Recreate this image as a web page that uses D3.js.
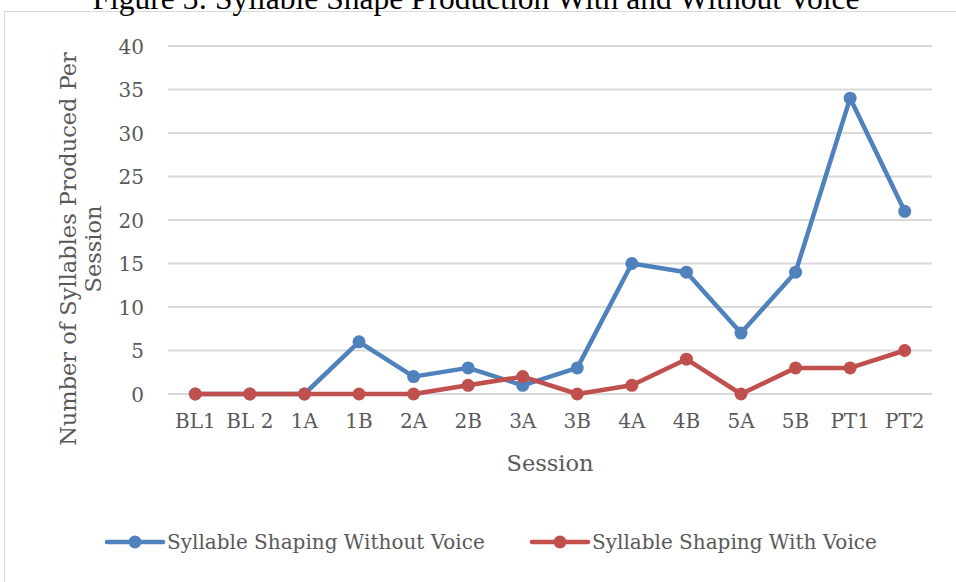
<!DOCTYPE html>
<html><head><meta charset="utf-8">
<script src="https://cdn.jsdelivr.net/npm/d3@7"></script>
<style>body{margin:0;background:#fff}svg{display:block}text{font-family:"DejaVu Serif",serif;fill:#595959}</style>
</head><body><svg id="c" width="956" height="582"></svg>
<script>
const sessions = ["BL1","BL 2","1A","1B","2A","2B","3A","3B","4A","4B","5A","5B","PT1","PT2"];
const withoutVoice = [0,0,0,6,2,3,1,3,15,14,7,14,34,21];
const withVoice = [0,0,0,0,0,1,2,0,1,4,0,3,3,5];
const yTicks = [0,5,10,15,20,25,30,35,40];
const seriesNames = ["Syllable Shaping Without Voice","Syllable Shaping With Voice"];
const colors = ["#4F81BD","#C0504D"];

const svg = d3.select("#c");
svg.append("rect").attr("x",4.5).attr("y",11.5).attr("width",960).attr("height",600)
  .attr("fill","#fff").attr("stroke","#d9d9d9");
svg.append("text").attr("x",476).attr("y",9).attr("text-anchor","middle")
  .style("font-size","31.5px").style("fill","#000").style("font-family","Liberation Serif")
  .text("Figure 3: Syllable Shape Production With and Without Voice");

const x = d3.scaleBand().domain(sessions).range([168,932]);
const y = d3.scaleLinear().domain([0,40]).range([394,46]);

svg.append("g").selectAll("line").data(yTicks).join("line")
  .attr("x1",168).attr("x2",932).attr("y1",d=>y(d)).attr("y2",d=>y(d))
  .attr("stroke","#d9d9d9").attr("stroke-width",2);

const yAxis = svg.append("g").attr("transform","translate(168,0)")
  .call(d3.axisLeft(y).tickValues(yTicks).tickSize(0).tickPadding(24));
yAxis.select(".domain").remove();
yAxis.selectAll("text").style("font-size","20px").attr("dy","0.36em").style("font-family","DejaVu Serif").attr("fill","#595959");

const xAxis = svg.append("g").attr("transform","translate(0,394)")
  .call(d3.axisBottom(x).tickSize(0).tickPadding(20));
xAxis.select(".domain").remove();
xAxis.selectAll("text").style("font-size","20px").style("font-family","DejaVu Serif").attr("fill","#595959");

svg.append("text").attr("x",550).attr("y",471).attr("text-anchor","middle")
  .style("font-size","22.5px").text("Session");
svg.append("text").attr("transform","translate(76,249) rotate(-90)").attr("text-anchor","middle")
  .style("font-size","22.5px").text("Number of Syllables Produced Per");
svg.append("text").attr("transform","translate(101,249) rotate(-90)").attr("text-anchor","middle")
  .style("font-size","22.5px").text("Session");

const series = [withoutVoice, withVoice];
const line = d3.line().x((d,i)=>x(sessions[i])+x.bandwidth()/2).y(d=>y(d));
series.forEach((s,k)=>{
  svg.append("path").datum(s).attr("d",line).attr("fill","none")
    .attr("stroke",colors[k]).attr("stroke-width",4.5).attr("stroke-linejoin","round");
  svg.selectAll("circle.s"+k).data(s).join("circle").attr("class","s"+k)
    .attr("cx",(d,i)=>x(sessions[i])+x.bandwidth()/2).attr("cy",d=>y(d)).attr("r",6.5)
    .attr("fill",colors[k]);
});

const legX = [107,532];
seriesNames.forEach((n,k)=>{
  const lg = svg.append("g").attr("transform",`translate(${legX[k]},542)`);
  lg.append("line").attr("x1",0).attr("x2",56).attr("stroke",colors[k]).attr("stroke-width",4.5).attr("stroke-linecap","round");
  lg.append("circle").attr("cx",28).attr("r",6.5).attr("fill",colors[k]);
  lg.append("text").attr("x",60).attr("dy","0.35em").style("font-size","20px").text(n);
});
</script></body></html>
